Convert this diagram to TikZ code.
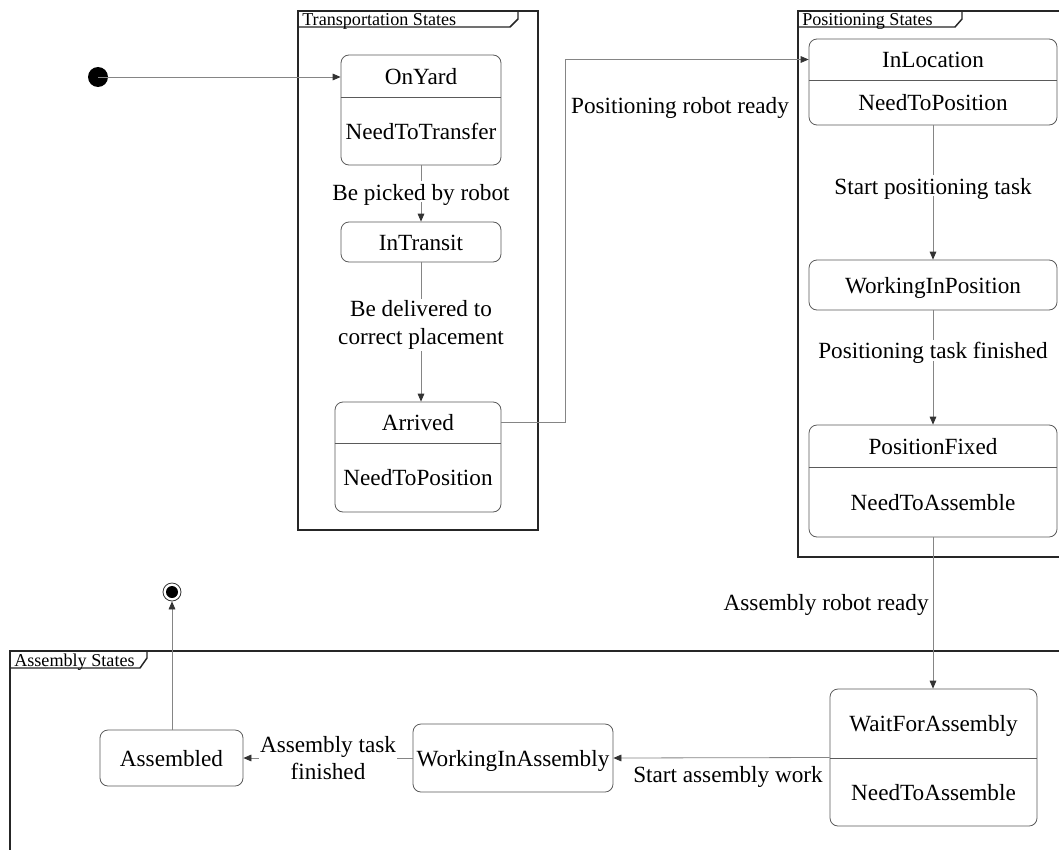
\documentclass[tikz,border=0pt]{standalone}
\usepackage{fontspec}
\setmainfont{Liberation Serif}
\usetikzlibrary{arrows.meta}
\definecolor{boxgray}{HTML}{5A5A5A}
\definecolor{linegray}{HTML}{858585}
\definecolor{headgray}{HTML}{333333}
\begin{document}
\begin{tikzpicture}[x=0.75pt,y=-0.75pt,
  every node/.style={font=\fontsize{17.4}{21}\selectfont, inner sep=2pt,
    text height=1.25em, text depth=0pt},
  state/.style n args={2}{draw=boxgray, line width=0.6pt, rounded corners=6pt,
    inner sep=0pt, minimum width=#1*0.75pt, minimum height=#2*0.75pt},
  divider/.style={draw=boxgray, line width=0.6pt},
  frame/.style={draw=black!85, line width=1.1pt},
  tabtext/.style={font=\fontsize{13.6}{16}\selectfont, anchor=west, inner sep=0pt,
    text height=1.0em, text depth=0pt},
  conn/.style={draw=linegray, line width=0.6pt,
    -{Triangle[length=6pt,width=5pt,fill=headgray,color=headgray]}},
  lbl/.style={fill=white, inner sep=1.5pt},
  twoline/.style={align=center, text height=, text depth=, font=\fontsize{17.4}{20.5}\selectfont}]

\clip (0,0) rectangle (1059,849);
\fill[white] (0,0) rectangle (1059,849);

% ---- composite state frames ----
\draw[frame] (298,11) rectangle (538,530);
\draw[frame] (298,27) -- (510,27) -- (518,19) -- (518,11);
\node[tabtext] (tTransport) at (302,19) {Transportation States};

\draw[frame] (798,11) rectangle (1075,557);
\draw[frame] (798,27) -- (955,27) -- (962,19) -- (962,11);
\node[tabtext] (tPosition) at (802,19) {Positioning States};

\draw[frame] (10,651) rectangle (1075,870);
\draw[frame] (10,668) -- (140,668) -- (147,658) -- (147,651);
\node[tabtext] (tAssembly) at (14,659.5) {Assembly States};

% ---- pseudo states ----
\fill[black] (98,77) circle[radius=10] coordinate (init);
\node[circle, draw=black!80, line width=0.6pt, minimum size=18*0.75pt, inner sep=0pt,
  text height=, text depth=] (final) at (172,592) {};
\fill[black] (final.center) circle[radius=6];

% ---- transportation states ----
\node[state={160}{110}] (OnYard) at (421,110) {};
\draw[divider] (OnYard.west |- 0,97) -- (OnYard.east |- 0,97);
\node (OnYardT) at (421,76) {OnYard};
\node (OnYardB) at (421,131) {NeedToTransfer};

\node[state={160}{40}] (InTransit) at (421,242) {};
\node (InTransitT) at (421,242) {InTransit};

\node[state={166}{110}] (Arrived) at (418,457) {};
\draw[divider] (Arrived.west |- 0,443) -- (Arrived.east |- 0,443);
\node (ArrivedT) at (418,422.5) {Arrived};
\node (ArrivedB) at (418,477.5) {NeedToPosition};

% ---- positioning states ----
\node[state={248}{86}] (InLoc) at (933,82) {};
\draw[divider] (InLoc.west |- 0,80) -- (InLoc.east |- 0,80);
\node (InLocT) at (933,59.5) {InLocation};
\node (InLocB) at (933,102.5) {NeedToPosition};

\node[state={248}{50}] (WIP) at (933,285) {};
\node (WIPT) at (933,285) {WorkingInPosition};

\node[state={248}{112}] (PosFixed) at (933,481) {};
\draw[divider] (PosFixed.west |- 0,467) -- (PosFixed.east |- 0,467);
\node (PosFixedT) at (933,446) {PositionFixed};
\node (PosFixedB) at (933,502) {NeedToAssemble};

% ---- assembly states ----
\node[state={207}{137}] (Wait) at (933.5,757.5) {};
\draw[divider] (Wait.west |- 0,758) -- (Wait.east |- 0,758);
\node (WaitT) at (933.5,723.5) {WaitForAssembly};
\node (WaitB) at (933.5,792) {NeedToAssemble};

\node[state={200}{68}] (WIA) at (513,758) {};
\node (WIAT) at (513,758) {WorkingInAssembly};

\node[state={143}{56}] (Assembled) at (171.5,758) {};
\node (AssembledT) at (171.5,758) {Assembled};

% ---- transitions ----
\draw[conn] (init) -- (init -| OnYard.west);

\draw[conn] (OnYard.south) -- node[lbl, pos=0.47] (lPicked) {Be picked by robot} (InTransit.north);

\draw[conn] (InTransit.south) -- node[lbl, twoline, pos=0.45] (lDelivered)
  {Be delivered to\\correct placement} (InTransit.south |- Arrived.north);

\coordinate (bend) at (565,0);
\draw[conn] (Arrived.east |- ArrivedT) -| (bend |- InLocT) -- (InLoc.west |- InLocT);
\node (lPosReady) at (680,105) {Positioning robot ready};

\draw[conn] (InLoc.south) -- node[lbl, pos=0.45] (lStartPos) {Start positioning task} (WIP.north);
\draw[conn] (WIP.south) -- node[lbl, pos=0.35] (lPosDone) {Positioning task finished} (PosFixed.north);

\draw[conn] (PosFixed.south) -- node[left, pos=0.43, inner sep=3pt] (lAsmReady)
  {Assembly robot ready} (PosFixed.south |- Wait.north);

\draw[conn] (Wait.west) -- node[below, pos=0.47, inner sep=5.5pt] (lStartAsm)
  {Start assembly work} (WIA.east);

\draw[conn] (WIA.west) -- node[lbl, twoline, inner sep=0.5pt] (lAsmDone)
  {Assembly task\\finished} (Assembled.east);

\draw[conn] (Assembled.north -| final) -- (final.south);

\end{tikzpicture}
\end{document}
